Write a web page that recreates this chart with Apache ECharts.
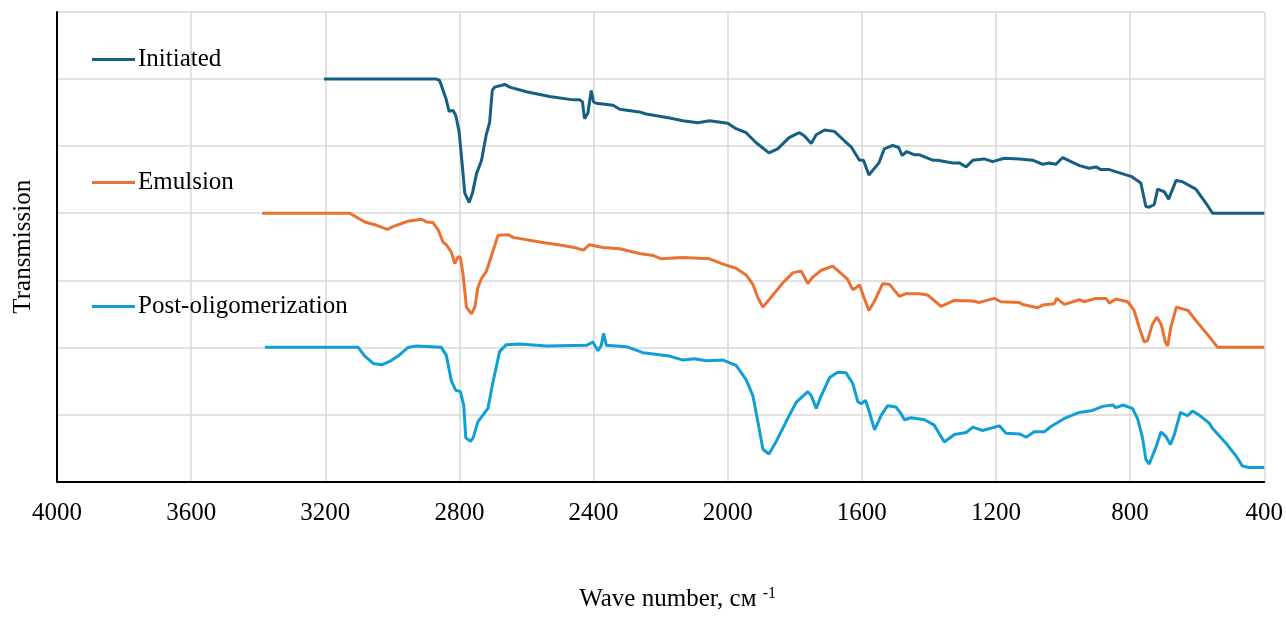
<!DOCTYPE html>
<html>
<head>
<meta charset="utf-8">
<script src="https://cdn.jsdelivr.net/npm/echarts@6/dist/echarts.min.js"></script>
<style>
html,body{margin:0;padding:0;background:#fff;}
#chart{width:1286px;height:617px;}
</style>
</head>
<body>
<div id="chart"></div>
<script>
// Wave number ticks
var xTicks = [4000, 3600, 3200, 2800, 2400, 2000, 1600, 1200, 800, 400];
var seriesNames = ['Initiated', 'Emulsion', 'Post-oligomerization'];

// Initiated
var initWN = [3204, 2869, 2859, 2839, 2831, 2819, 2811, 2801, 2791, 2784, 2771, 2761, 2749, 2734, 2720, 2710, 2702, 2695, 2665, 2650, 2600, 2531, 2461, 2441, 2433, 2427, 2417, 2407, 2400, 2392, 2342, 2322, 2263, 2243, 2173, 2134, 2089, 2054, 2000, 1975, 1945, 1915, 1877, 1851, 1816, 1786, 1771, 1751, 1736, 1711, 1682, 1652, 1632, 1607, 1595, 1579, 1549, 1533, 1508, 1490, 1480, 1466, 1443, 1428, 1389, 1374, 1329, 1309, 1289, 1269, 1235, 1210, 1175, 1130, 1091, 1061, 1041, 1021, 1001, 951, 922, 902, 887, 862, 817, 797, 768, 753, 743, 728, 718, 698, 685, 663, 644, 604, 574, 554, 400];
var initT = [6.0, 6.0, 5.98, 5.69, 5.52, 5.53, 5.46, 5.22, 4.69, 4.30, 4.16, 4.30, 4.59, 4.79, 5.17, 5.35, 5.83, 5.88, 5.92, 5.88, 5.81, 5.74, 5.69, 5.69, 5.66, 5.41, 5.49, 5.83, 5.66, 5.64, 5.61, 5.55, 5.51, 5.48, 5.42, 5.38, 5.35, 5.38, 5.34, 5.26, 5.20, 5.05, 4.90, 4.96, 5.13, 5.20, 5.15, 5.04, 5.17, 5.24, 5.22, 5.08, 4.99, 4.79, 4.79, 4.57, 4.75, 4.96, 5.01, 4.98, 4.86, 4.92, 4.87, 4.87, 4.79, 4.79, 4.75, 4.75, 4.69, 4.79, 4.81, 4.77, 4.82, 4.81, 4.79, 4.73, 4.75, 4.73, 4.83, 4.71, 4.67, 4.69, 4.65, 4.65, 4.58, 4.55, 4.45, 4.10, 4.09, 4.13, 4.36, 4.32, 4.21, 4.49, 4.47, 4.36, 4.15, 4.0, 4.0];

// Emulsion
var emulWN = [3388, 3127, 3082, 3047, 3015, 2998, 2954, 2913, 2898, 2879, 2864, 2849, 2839, 2824, 2814, 2804, 2797, 2789, 2779, 2764, 2754, 2745, 2734, 2720, 2710, 2685, 2655, 2640, 2561, 2491, 2451, 2430, 2412, 2372, 2322, 2263, 2223, 2198, 2134, 2054, 2014, 1975, 1945, 1925, 1910, 1895, 1875, 1836, 1806, 1781, 1761, 1748, 1721, 1687, 1657, 1642, 1627, 1617, 1607, 1597, 1579, 1562, 1538, 1518, 1488, 1468, 1428, 1404, 1389, 1364, 1324, 1269, 1249, 1205, 1185, 1130, 1120, 1076, 1061, 1026, 1019, 996, 951, 937, 902, 872, 862, 842, 807, 788, 773, 758, 748, 734, 720, 707, 695, 688, 678, 662, 627, 604, 564, 539, 400];
var emulT = [4.0, 4.0, 3.87, 3.82, 3.76, 3.80, 3.88, 3.91, 3.87, 3.86, 3.76, 3.57, 3.53, 3.42, 3.25, 3.35, 3.34, 3.08, 2.60, 2.50, 2.60, 2.89, 3.03, 3.13, 3.28, 3.67, 3.68, 3.64, 3.57, 3.52, 3.48, 3.45, 3.53, 3.49, 3.47, 3.40, 3.37, 3.32, 3.34, 3.32, 3.24, 3.18, 3.08, 2.94, 2.74, 2.60, 2.72, 2.96, 3.11, 3.14, 2.95, 3.04, 3.15, 3.21, 3.08, 3.01, 2.86, 2.89, 2.93, 2.79, 2.55, 2.69, 2.95, 2.94, 2.76, 2.80, 2.80, 2.78, 2.72, 2.61, 2.70, 2.69, 2.67, 2.73, 2.68, 2.67, 2.64, 2.59, 2.63, 2.65, 2.73, 2.64, 2.71, 2.68, 2.73, 2.73, 2.66, 2.72, 2.68, 2.55, 2.30, 2.08, 2.10, 2.34, 2.45, 2.34, 2.08, 2.02, 2.31, 2.60, 2.55, 2.40, 2.16, 2.0, 2.0];

// Post-oligomerization
var postWN = [3380, 3102, 3082, 3057, 3032, 3008, 2983, 2953, 2928, 2854, 2839, 2824, 2811, 2797, 2787, 2781, 2767, 2759, 2745, 2730, 2715, 2700, 2680, 2660, 2620, 2541, 2421, 2402, 2387, 2377, 2370, 2362, 2302, 2263, 2253, 2173, 2134, 2099, 2064, 2014, 1975, 1945, 1925, 1910, 1895, 1877, 1855, 1826, 1796, 1761, 1751, 1736, 1721, 1696, 1672, 1647, 1627, 1612, 1602, 1589, 1579, 1562, 1542, 1523, 1498, 1483, 1473, 1453, 1413, 1384, 1354, 1324, 1289, 1269, 1240, 1190, 1170, 1130, 1110, 1086, 1056, 1036, 996, 951, 912, 882, 852, 842, 822, 793, 778, 763, 753, 743, 723, 708, 693, 680, 668, 650, 629, 614, 594, 564, 554, 514, 484, 465, 445, 400];
var postT = [2.0, 2.0, 1.87, 1.76, 1.74, 1.79, 1.87, 2.0, 2.02, 2.0, 1.88, 1.50, 1.36, 1.34, 1.13, 0.65, 0.60, 0.65, 0.89, 0.99, 1.09, 1.48, 1.94, 2.04, 2.05, 2.02, 2.03, 2.08, 1.95, 2.03, 2.21, 2.03, 2.01, 1.94, 1.92, 1.87, 1.81, 1.83, 1.80, 1.81, 1.73, 1.52, 1.28, 0.89, 0.48, 0.41, 0.60, 0.89, 1.18, 1.34, 1.28, 1.09, 1.28, 1.55, 1.63, 1.62, 1.46, 1.19, 1.16, 1.21, 1.06, 0.77, 0.99, 1.13, 1.11, 1.01, 0.92, 0.95, 0.92, 0.84, 0.59, 0.70, 0.73, 0.81, 0.76, 0.83, 0.72, 0.71, 0.66, 0.74, 0.74, 0.82, 0.94, 1.03, 1.06, 1.12, 1.14, 1.10, 1.14, 1.09, 0.94, 0.65, 0.33, 0.26, 0.51, 0.74, 0.67, 0.55, 0.70, 1.03, 0.98, 1.05, 0.99, 0.87, 0.79, 0.57, 0.38, 0.23, 0.21, 0.21];

function zip(a, b) { return a.map(function (v, i) { return [v, b[i]]; }); }

var colors = ['#156082', '#E97132', '#0F9ED5'];
var serif = '"Liberation Serif", "Times New Roman", serif';

var chart = echarts.init(document.getElementById('chart'), null, { renderer: 'canvas' });

function legendAt(name, top) {
  return {
    data: [name], left: 92, top: top, padding: 0, icon: 'rect',
    itemWidth: 43, itemHeight: 3, itemGap: 0, selectedMode: false,
    textStyle: { fontFamily: serif, fontSize: 25, color: '#000', padding: [0, 0, 0, -2] }
  };
}

chart.setOption({
  animation: false,
  color: colors,
  grid: { left: 57, right: 21, top: 12, bottom: 126 },
  legend: [legendAt(seriesNames[0], 47), legendAt(seriesNames[1], 170), legendAt(seriesNames[2], 294)],
  xAxis: {
    type: 'value', min: 400, max: 4000, interval: 400, inverse: true,
    name: '{a|Wave number, см }{sup|-1}',
    nameLocation: 'middle', nameGap: 104,
    nameTextStyle: {
      padding: [0, 0, 0, 34],
      rich: {
        a: { fontFamily: serif, fontSize: 25, color: '#000' },
        sup: { fontFamily: serif, fontSize: 16, color: '#000', verticalAlign: 'top', padding: [0, 0, 12, 0] }
      }
    },
    axisLine: { lineStyle: { color: '#000', width: 2 } },
    axisTick: { show: false },
    axisLabel: { fontFamily: serif, fontSize: 25, color: '#000', margin: 19,
      formatter: function (v) { return xTicks.indexOf(v) >= 0 ? String(v) : ''; } },
    splitLine: { show: true, lineStyle: { color: '#d9d9d9', width: 1.5 } }
  },
  yAxis: {
    type: 'value', min: 0, max: 7, interval: 1,
    name: 'Transmission', nameLocation: 'middle', nameGap: 21,
    nameTextStyle: { fontFamily: serif, fontSize: 25, color: '#000' },
    axisLine: { show: true, lineStyle: { color: '#000', width: 2 } },
    axisTick: { show: false },
    axisLabel: { show: false },
    splitLine: { show: true, lineStyle: { color: '#d9d9d9', width: 1.5 } }
  },
  series: [
    { name: seriesNames[0], type: 'line', data: zip(initWN, initT), showSymbol: false, lineStyle: { width: 3, color: colors[0] }, itemStyle: { color: colors[0] } },
    { name: seriesNames[1], type: 'line', data: zip(emulWN, emulT), showSymbol: false, lineStyle: { width: 3, color: colors[1] }, itemStyle: { color: colors[1] } },
    { name: seriesNames[2], type: 'line', data: zip(postWN, postT), showSymbol: false, lineStyle: { width: 3, color: colors[2] }, itemStyle: { color: colors[2] } }
  ]
});
</script>
</body>
</html>
